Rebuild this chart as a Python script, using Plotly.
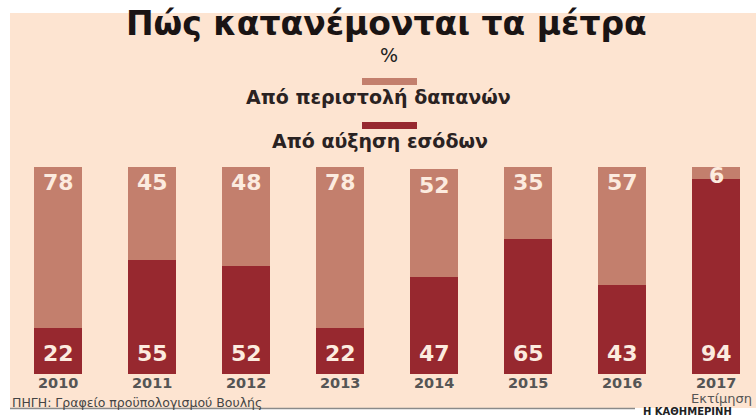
import plotly.graph_objects as go

# Data: share of fiscal measures (%) by year
years = ["2010", "2011", "2012", "2013", "2014", "2015", "2016", "2017"]
spending_cuts = [78, 45, 48, 78, 52, 35, 57, 6]      # Από περιστολή δαπανών
revenue_increase = [22, 55, 52, 22, 47, 65, 43, 94]  # Από αύξηση εσόδων
estimate_note = {"2017": "Εκτίμηση"}

W, H = 756, 419
BG = "#fde4d1"
LIGHT = "#c37f6d"
DARK = "#97282f"
LABEL = "#fcebdf"
FONT = "DejaVu Sans"

# bar centres every 94 px starting at x=58; bars 48 px wide
STEP, FIRST, BAR_W = 94.0, 58.0, 48.0


def px(x):
    return x / W


def py(y):
    return 1 - y / H


positions = list(range(len(years)))

fig = go.Figure()

fig.add_trace(go.Bar(
    x=positions, y=revenue_increase, name="Από αύξηση εσόδων",
    marker=dict(color=DARK, line=dict(width=0)), hoverinfo="skip",
))
fig.add_trace(go.Bar(
    x=positions, y=spending_cuts, name="Από περιστολή δαπανών",
    marker=dict(color=LIGHT, line=dict(width=0)), hoverinfo="skip",
))

annotations = []

# value labels inside the bars, year labels underneath
for i, (yr, cut, rev) in enumerate(zip(years, spending_cuts, revenue_increase)):
    top = cut + rev
    annotations.append(dict(
        x=i, y=top - min(7.7, cut * 0.7), xref="x", yref="y",
        text=f"<b>{cut}</b>", showarrow=False,
        font=dict(family=FONT, size=22, color=LABEL),
        xanchor="center", yanchor="middle",
    ))
    annotations.append(dict(
        x=i, y=10.1, xref="x", yref="y",
        text=f"<b>{rev}</b>", showarrow=False,
        font=dict(family=FONT, size=22, color=LABEL),
        xanchor="center", yanchor="middle",
    ))
    annotations.append(dict(
        x=i, y=py(383), xref="x", yref="paper",
        text=f"<b>{yr}</b>", showarrow=False,
        font=dict(family=FONT, size=14.5, color="#555555"),
        xanchor="center", yanchor="middle",
    ))
    if yr in estimate_note:
        annotations.append(dict(
            x=i + 5 / STEP, y=py(398), xref="x", yref="paper",
            text=estimate_note[yr], showarrow=False,
            font=dict(family=FONT, size=13, color="#555555"),
            xanchor="center", yanchor="middle",
        ))

# title, unit and legend texts
annotations += [
    dict(x=px(386), y=py(23), xref="paper", yref="paper",
         text="<b>Πώς κατανέμονται τα μέτρα</b>", showarrow=False,
         font=dict(family=FONT, size=33, color="#1a1414"),
         xanchor="center", yanchor="middle"),
    dict(x=px(389), y=py(55), xref="paper", yref="paper",
         text="%", showarrow=False,
         font=dict(family=FONT, size=19, color="#222222"),
         xanchor="center", yanchor="middle"),
    dict(x=px(379), y=py(97), xref="paper", yref="paper",
         text="<b>Από περιστολή δαπανών</b>", showarrow=False,
         font=dict(family=FONT, size=19, color="#2a2222"),
         xanchor="center", yanchor="middle"),
    dict(x=px(380), y=py(141), xref="paper", yref="paper",
         text="<b>Από αύξηση εσόδων</b>", showarrow=False,
         font=dict(family=FONT, size=19, color="#2a2222"),
         xanchor="center", yanchor="middle"),
    dict(x=px(10), y=py(402), xref="paper", yref="paper",
         text="ΠΗΓΗ: Γραφείο προϋπολογισμού Βουλής", showarrow=False,
         font=dict(family=FONT, size=12.5, color="#444444"),
         xanchor="left", yanchor="middle"),
    dict(x=px(641), y=0, xref="paper", yref="paper",
         text="<b>Η ΚΑΘΗΜΕΡΙΝΗ</b>", showarrow=False,
         font=dict(family=FONT, size=10, color="#222222"),
         xanchor="left", yanchor="bottom"),
]

shapes = [
    # peach panel
    dict(type="rect", xref="paper", yref="paper", layer="below",
         x0=px(10), x1=1, y0=py(408), y1=py(13),
         fillcolor=BG, line=dict(width=0)),
    # rule under the source line
    dict(type="line", xref="paper", yref="paper",
         x0=px(10), x1=px(635), y0=py(408.5), y1=py(408.5),
         line=dict(color="#8a8a8a", width=1.5)),
    # legend swatches
    dict(type="rect", xref="paper", yref="paper",
         x0=px(362), x1=px(417), y0=py(85), y1=py(78),
         fillcolor=LIGHT, line=dict(width=0)),
    dict(type="rect", xref="paper", yref="paper",
         x0=px(362), x1=px(417), y0=py(129), y1=py(122),
         fillcolor=DARK, line=dict(width=0)),
]

x_lo = (0 - FIRST) / STEP
x_hi = (W - FIRST) / STEP

fig.update_layout(
    width=W, height=H,
    margin=dict(l=0, r=0, t=0, b=0, pad=0),
    paper_bgcolor="white", plot_bgcolor="rgba(0,0,0,0)",
    barmode="stack", bargap=1 - BAR_W / STEP,
    showlegend=False,
    xaxis=dict(range=[x_lo, x_hi], domain=[0, 1],
               showticklabels=False, showgrid=False, zeroline=False,
               showline=False, ticks=""),
    yaxis=dict(range=[0, 100], domain=[py(374), py(167)],
               showticklabels=False, showgrid=False, zeroline=False,
               showline=False, ticks=""),
    annotations=annotations,
    shapes=shapes,
)

fig.write_html("out.html")
